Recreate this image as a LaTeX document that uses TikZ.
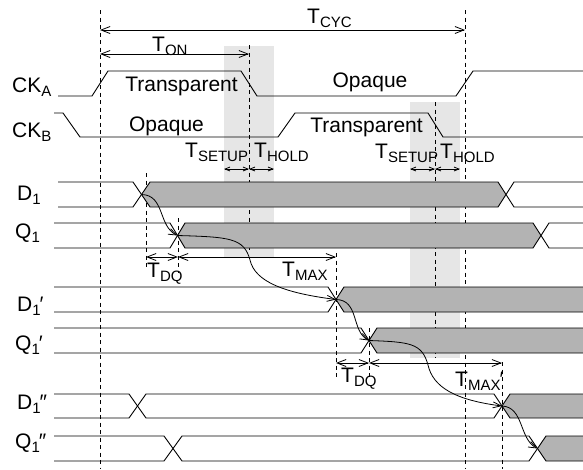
\documentclass[tikz,border=0pt]{standalone}
\usepackage{fontspec}
\setmainfont{Liberation Sans}
\usetikzlibrary{arrows.meta}
\definecolor{busgrey}{RGB}{179,179,179}
\definecolor{windowgrey}{RGB}{230,230,230}
\newcommand{\lsub}[1]{\raisebox{-4pt}{\fontsize{15}{16}\selectfont #1}}
\tikzstyle{wave} = [line width=0.9pt, line join=miter]
\tikzstyle{busfill} = [fill=busgrey]
\tikzstyle{window} = [fill=windowgrey]
\tikzstyle{guide} = [line width=0.9pt, dash pattern=on 4pt off 3.5pt]
\tikzstyle{dimarrow} = [{Straight Barb[length=9pt,width=7pt]}-{Straight Barb[length=9pt,width=7pt]}, line width=0.8pt]
\tikzstyle{smalldim} = [{Straight Barb[length=5pt,width=4pt]}-{Straight Barb[length=5pt,width=4pt]}, line width=0.8pt]
\tikzstyle{flow} = [-{Straight Barb[length=8pt,width=6pt]}, line width=0.8pt]
\tikzstyle{siglabel} = [inner sep=0pt, anchor=base west]
\tikzstyle{tlabel} = [inner sep=0pt, anchor=base west]
\tikzstyle{phase} = [inner sep=0pt, anchor=base]

\begin{document}
\begin{tikzpicture}[x=1pt, y=-1pt, font=\fontsize{21}{25}\selectfont]
\useasboundingbox (0,0) rectangle (583,469);

% Setup / hold windows
\fill[window] (224,46) rectangle (274,258);
\fill[window] (410,102) rectangle (460,358);

% Guide lines
\draw[guide] (100,10) -- (100,469);
\draw[guide] (465,10) -- (465,469);
\draw[guide] (249,45) -- (249,250);
\draw[guide] (435,102) -- (435,358);
\draw[guide] (146,173) -- (146,270);
\draw[guide] (178,218) -- (178,273);
\draw[guide] (336,253) -- (336,380);
\draw[guide] (369,328) -- (369,380);
\draw[guide] (502,362) -- (502,469);

% Clocks
\draw[wave] (58,96) -- (92,96) -- (108,71) -- (241,71) -- (257,96) -- (456,96) -- (473,71) -- (583,71);
\draw[wave] (54,113) -- (63,113) -- (80,137) -- (278,137) -- (295,113) -- (428,113) -- (443,137) -- (583,137);

% D1 and Q1
\fill[busfill] (141.5,194.5) -- (150,182) -- (498,182) -- (506,194.5) -- (498,207) -- (150,207) -- cycle;
\draw[wave] (58,182) -- (133,182) -- (150,207) -- (498,207) -- (514,182) -- (583,182);
\draw[wave] (58,207) -- (133,207) -- (150,182) -- (498,182) -- (514,207) -- (583,207);
\fill[busfill] (177.5,235.5) -- (185,223) -- (533,223) -- (541,235.5) -- (533,248) -- (185,248) -- cycle;
\draw[wave] (54,223) -- (170,223) -- (185,248) -- (533,248) -- (549,223) -- (583,223);
\draw[wave] (54,248) -- (170,248) -- (185,223) -- (533,223) -- (549,248) -- (583,248);

% D1' and Q1'
\fill[busfill] (336,299.5) -- (344,287) -- (583,287) -- (583,312) -- (344,312) -- cycle;
\draw[wave] (54,287) -- (328,287) -- (344,312) -- (583,312);
\draw[wave] (54,312) -- (328,312) -- (344,287) -- (583,287);
\fill[busfill] (369,340.5) -- (377,328) -- (583,328) -- (583,353) -- (377,353) -- cycle;
\draw[wave] (54,328) -- (361,328) -- (377,353) -- (583,353);
\draw[wave] (54,353) -- (361,353) -- (377,328) -- (583,328);

% D1'' and Q1''
\fill[busfill] (502,406) -- (510,394) -- (583,394) -- (583,418) -- (510,418) -- cycle;
\draw[wave] (54,394) -- (129,394) -- (146,418) -- (494,418) -- (510,394) -- (583,394);
\draw[wave] (54,418) -- (129,418) -- (146,394) -- (494,394) -- (510,418) -- (583,418);
\fill[busfill] (537.5,448.5) -- (546,436) -- (583,436) -- (583,461) -- (546,461) -- cycle;
\draw[wave] (54,436) -- (164,436) -- (182,461) -- (529,461) -- (546,436) -- (583,436);
\draw[wave] (54,461) -- (164,461) -- (182,436) -- (529,436) -- (546,461) -- (583,461);

% Crossing points
\coordinate (xD1) at (141.5,194.5);
\coordinate (xQ1) at (177.5,235.5);
\coordinate (xD1p) at (336,299.5);
\coordinate (xQ1p) at (369,340.5);
\coordinate (xD1pp) at (502,406);
\coordinate (xQ1pp) at (537.5,448.5);

% Propagation
\draw[flow] (xD1) .. controls (165,195) and (158,226) .. (xQ1);
\draw[flow] (xQ1) .. controls (230,237) and (244,238) .. (250,260)
  .. controls (255,282) and (285,293) .. (xD1p);
\draw[flow] (xD1p) .. controls (359.5,300) and (351,331) .. (xQ1p);
\draw[flow] (xQ1p) .. controls (410,342) and (422,343) .. (428,365)
  .. controls (433,387) and (455,400) .. (xD1pp);
\draw[flow] (xD1pp) .. controls (524,407) and (519,439) .. (xQ1pp);

% Dimension marks
\coordinate (cycA) at (100,30);
\coordinate (cycB) at (465,30);
\coordinate (onA) at (100,54);
\coordinate (onB) at (249,54);
\coordinate (su1A) at (224,169);
\coordinate (su1B) at (249,169);
\coordinate (ho1B) at (274,169);
\coordinate (su2A) at (410,169);
\coordinate (su2B) at (435,169);
\coordinate (ho2B) at (460,169);
\coordinate (dq1A) at (146,257);
\coordinate (dq1B) at (178,257);
\coordinate (mx1B) at (336,257);
\coordinate (dq2A) at (336,363);
\coordinate (dq2B) at (369,363);
\coordinate (mx2B) at (502,363);
\draw[dimarrow] (cycA) -- (cycB);
\draw[dimarrow] (onA) -- (onB);
\draw[smalldim] (su1A) -- (su1B);
\draw[smalldim] (su1B) -- (ho1B);
\draw[smalldim] (su2A) -- (su2B);
\draw[smalldim] (su2B) -- (ho2B);
\draw[dimarrow] (dq1A) -- (dq1B);
\draw[dimarrow] (dq1B) -- (mx1B);
\draw[dimarrow] (dq2A) -- (dq2B);
\draw[dimarrow] (dq2B) -- (mx2B);

% Signal names
\node[siglabel] (ckA) at (12,92) {CK\lsub{A}};
\node[siglabel] (ckB) at (12,137) {CK\lsub{B}};
\node[siglabel] (d1) at (17,200) {D\lsub{1}};
\node[siglabel] (q1) at (15,238) {Q\lsub{1}};
\node[siglabel] (d1p) at (17,311) {D\lsub{1}\kern-1pt′};
\node[siglabel] (q1p) at (15,350) {Q\lsub{1}\kern-1pt′};
\node[siglabel] (d1pp) at (17,409) {D\lsub{1}\kern-1pt″};
\node[siglabel] (q1pp) at (15,448) {Q\lsub{1}\kern-1pt″};

% Phases
\node[phase] (transA) at (181.5,91) {Transparent};
\node[phase] (opaqB) at (166.5,131) {Opaque};
\node[phase] (opaqA) at (370,87) {Opaque};
\node[phase] (transB) at (366.5,132) {Transparent};

% Timing names
\node[tlabel] (tcyc) at (307,23) {T\lsub{CYC}};
\node[tlabel] (ton) at (152,51) {T\lsub{ON}};
\node[tlabel] (tsu1) at (185,157) {T\lsub{SETUP}};
\node[tlabel] (tho1) at (254,157) {T\lsub{HOLD}};
\node[tlabel] (tsu2) at (375,158) {T\lsub{SETUP}};
\node[tlabel] (tho2) at (440,158) {T\lsub{HOLD}};
\node[tlabel] (tdq1) at (147,277) {T\lsub{DQ}};
\node[tlabel] (tmx1) at (282,276) {T\lsub{MAX}};
\node[tlabel] (tdq2) at (341,382) {T\lsub{DQ}};
\node[tlabel] (tmx2) at (455,386) {T\lsub{MAX}\kern-1pt′};

\end{tikzpicture}
\end{document}
